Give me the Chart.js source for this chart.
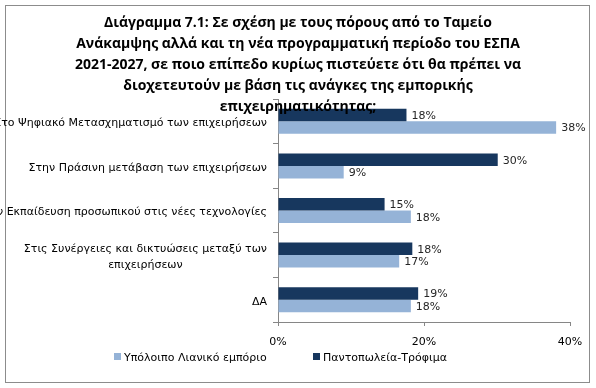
<!DOCTYPE html>
<html>
<head>
<meta charset="utf-8">
<script src="https://cdn.jsdelivr.net/npm/chart.js@4"></script>
<style>
  html, body { margin: 0; padding: 0; background: #fff; }
  #wrap { position: relative; width: 596px; height: 388px; overflow: hidden; }
  #frame { position: absolute; left: 5px; top: 5px; width: 583px; height: 376px; border: 1px solid #8c8c8c; }
  canvas { position: absolute; left: 0; top: 0; }
  #title {
    position: absolute; left: 0; top: 11px; width: 596px; text-align: center;
    font-family: "Open Sans", sans-serif; font-weight: bold; font-size: 14px; line-height: 21px; color: #000;
  }
  #legend { position: absolute; top: 350px; left: 0; width: 596px; font-family: "DejaVu Sans", sans-serif; font-size: 11px; color: #000; }
  .item { position: absolute; top: 0; line-height: 16px; white-space: nowrap; }
  .box { display: inline-block; width: 7px; height: 7px; margin-right: 3px; vertical-align: 1px; }
</style>
</head>
<body>
<div id="wrap">
  <div id="frame"></div>
  <canvas id="chart" width="596" height="388"></canvas>
  <div id="title">Διάγραμμα 7.1: Σε σχέση με τους πόρους από το Ταμείο<br>Ανάκαμψης αλλά και τη νέα προγραμματική περίοδο του ΕΣΠΑ<br>2021-2027, σε ποιο επίπεδο κυρίως πιστεύετε ότι θα πρέπει να<br>διοχετευτούν με βάση τις ανάγκες της εμπορικής<br>επιχειρηματικότητας;</div>
  <div id="legend"></div>
</div>
<script>
const categories = [
  ["Στο Ψηφιακό Μετασχηματισμό των επιχειρήσεων"],
  ["Στην Πράσινη μετάβαση των επιχειρήσεων"],
  ["Στην Εκπαίδευση προσωπικού στις νέες τεχνολογίες"],
  ["Στις Συνέργειες και δικτυώσεις μεταξύ των", "επιχειρήσεων"],
  ["ΔΑ"]
];
const groceryValues = [17.6, 30.1, 14.6, 18.4, 19.2];
const otherRetailValues = [38.1, 9.0, 18.2, 16.6, 18.2];
const xTicks = [0, 20, 40];

const darkBlue = "#17375e";
const lightBlue = "#95b3d7";
const axisGray = "#868686";
const labelFont = '11px "DejaVu Sans", sans-serif';

// legend (light series first, like the original)
const legendItems = [
  { text: "Υπόλοιπο Λιανικό εμπόριο", color: lightBlue, left: 114 },
  { text: "Παντοπωλεία-Τρόφιμα", color: darkBlue, left: 313 }
];
const legend = document.getElementById("legend");
legendItems.forEach((it) => {
  const d = document.createElement("div");
  d.className = "item";
  d.style.left = it.left + "px";
  d.innerHTML = '<span class="box" style="background:' + it.color + '"></span>' + it.text;
  legend.appendChild(d);
});

// value labels at the end of each bar
const barLabels = {
  id: "barLabels",
  afterDatasetsDraw(chart) {
    const ctx = chart.ctx;
    ctx.save();
    ctx.font = labelFont;
    ctx.fillStyle = "#262626";
    ctx.textAlign = "left";
    ctx.textBaseline = "middle";
    chart.data.datasets.forEach((ds, i) => {
      chart.getDatasetMeta(i).data.forEach((bar, j) => {
        ctx.fillText(Math.round(ds.data[j]) + "%", bar.x + 5, bar.y + 1);
      });
    });
    ctx.restore();
  }
};

// category labels: block right-aligned, lines centred inside the block
const categoryLabels = {
  id: "categoryLabels",
  afterDraw(chart) {
    const ctx = chart.ctx;
    const y = chart.scales.y;
    const right = y.right - 11;
    const lh = 16;
    ctx.save();
    ctx.font = labelFont;
    ctx.fillStyle = "#000";
    ctx.textAlign = "center";
    ctx.textBaseline = "middle";
    categories.forEach((lines, i) => {
      const w = Math.max(...lines.map((l) => ctx.measureText(l).width));
      const cx = right - w / 2;
      const cy = y.getPixelForValue(i) + 2 - (lines.length - 1) * lh / 2;
      lines.forEach((l, k) => ctx.fillText(l, cx, cy + k * lh));
    });
    ctx.restore();
  }
};

new Chart(document.getElementById("chart"), {
  type: "bar",
  data: {
    labels: categories.map((c) => c.join(" ")),
    datasets: [
      { label: "Παντοπωλεία-Τρόφιμα", data: groceryValues, backgroundColor: darkBlue },
      { label: "Υπόλοιπο Λιανικό εμπόριο", data: otherRetailValues, backgroundColor: lightBlue }
    ]
  },
  options: {
    indexAxis: "y",
    responsive: false,
    animation: false,
    layout: { padding: { left: 0, right: 26, top: 99, bottom: 0 } },
    datasets: { bar: { categoryPercentage: 0.56, barPercentage: 1.0 } },
    plugins: { legend: { display: false }, tooltip: { enabled: false }, title: { display: false } },
    scales: {
      x: {
        min: 0,
        max: 40,
        afterBuildTicks: (s) => { s.ticks = xTicks.map((v) => ({ value: v })); },
        afterFit: (s) => { s.height = 66; },
        border: { color: axisGray },
        grid: { drawOnChartArea: false, drawTicks: true, tickLength: 4, color: axisGray },
        ticks: { font: { family: "DejaVu Sans", size: 11 }, color: "#000", padding: 10, callback: (v) => v + "%" }
      },
      y: {
        afterFit: (s) => { s.width = 278; },
        border: { color: axisGray },
        grid: { offset: true, drawOnChartArea: false, drawTicks: true, tickLength: 5, color: axisGray },
        ticks: { display: false }
      }
    }
  },
  plugins: [barLabels, categoryLabels]
});
</script>
</body>
</html>
